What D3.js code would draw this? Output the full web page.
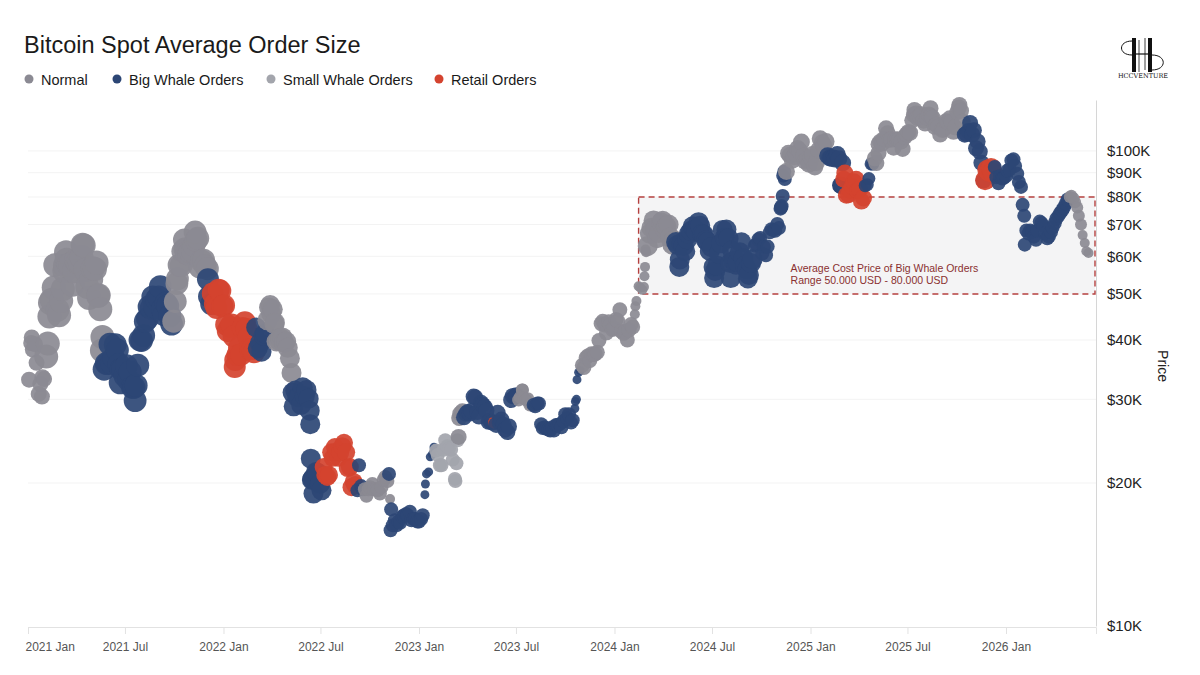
<!DOCTYPE html>
<html>
<head>
<meta charset="utf-8">
<script src="https://cdn.jsdelivr.net/npm/d3@7"></script>
<style>
  body { margin: 0; background: #fff; }
  svg { font-family: "Helvetica Neue", Helvetica, Arial, "Liberation Sans", sans-serif; }
</style>
</head>
<body>
<svg id="chart" width="1200" height="675"></svg>
<script>
// order classes and legend
const classNames = ["normal", "bigWhale", "smallWhale", "retail"];
const classLabels = ["Normal", "Big Whale Orders", "Small Whale Orders", "Retail Orders"];
const classColors = ["#8b8a93", "#2c4675", "#a3a5ac", "#d4432f"];

// BTC close (thousand USD): Sunday of each week from firstWeek on
const firstWeek = "2021-01-03";
const sun2021 = [33.0, 38.2, 35.8, 32.3, 33.1, 39.3, 48.6, 57.5, 45.1, 51.2, 59.0, 57.5, 55.8,
  58.2, 59.8, 56.2, 49.0, 56.6, 58.2, 46.4, 34.7, 35.7, 35.8, 39.1, 35.5, 34.7,
  35.3, 34.3, 31.8, 35.4, 39.9, 43.8, 47.0, 49.3, 48.8, 51.8, 45.2, 47.2, 43.2,
  48.2, 57.5, 61.5, 60.9, 61.3, 63.3, 65.5, 58.7, 57.3, 49.4, 50.1, 46.7, 50.8];
const sun2022 = [47.3, 41.8, 43.1, 36.3, 38.5, 42.4, 42.2, 38.3, 37.7, 38.4, 37.8, 41.3, 46.8,
  46.4, 39.7, 40.4, 39.5, 38.5, 34.1, 31.3, 30.3, 31.8, 31.4, 26.6, 20.6, 21.0,
  19.3, 20.8, 20.8, 22.6, 23.3, 23.2, 24.3, 21.5, 19.6, 19.8, 21.8, 19.4, 18.8,
  19.6, 19.4, 19.3, 19.6, 20.6, 20.9, 16.3, 16.3, 16.5, 17.1, 17.1, 16.7, 16.8];
const sun2023 = [16.6, 17.1, 20.9, 22.7, 23.8, 22.9, 21.8, 24.6, 23.6, 22.4, 22.0, 28.0, 27.5,
  28.2, 28.4, 30.3, 27.6, 29.2, 28.4, 27.0, 26.8, 28.1, 27.2, 25.9, 26.3, 30.5,
  30.6, 30.3, 30.2, 30.1, 29.3, 29.0, 29.4, 26.1, 26.0, 25.8, 25.8, 26.5, 26.2,
  27.9, 27.9, 27.1, 30.0, 34.5, 35.0, 37.0, 37.4, 37.4, 39.9, 43.8, 41.4, 43.0, 42.3];
const sun2024 = [43.9, 41.7, 41.6, 42.0, 42.6, 48.3, 51.6, 51.7, 63.1, 68.9, 68.4, 67.2, 71.3,
  69.4, 65.7, 64.9, 63.4, 63.9, 61.5, 66.9, 69.4, 67.8, 69.6, 66.6, 64.3, 62.7,
  55.9, 60.8, 68.2, 68.3, 58.1, 58.7, 58.4, 64.2, 57.3, 54.8, 59.2, 63.6, 65.6,
  62.8, 62.9, 68.4, 67.9, 68.8, 80.4, 90.5, 97.9, 97.2, 101.2, 104.4, 95.1, 93.7];
const sun2025 = [98.3, 94.5, 106.1, 102.6, 97.7, 96.5, 96.1, 96.3, 94.3, 80.7, 82.6, 86.1, 82.3,
  78.4, 84.5, 87.5, 93.8, 94.3, 104.6, 106.0, 109.0, 105.7, 105.7, 105.5, 101.0, 108.4,
  109.2, 119.1, 117.3, 119.4, 114.2, 119.3, 117.5, 113.5, 108.3, 111.1, 115.3, 115.2, 112.1,
  123.5, 115.2, 108.6, 114.5, 110.6, 104.7, 94.4, 86.8, 90.4, 90.0, 88.0, 88.5, 87.8];
const sun2026 = [91.0, 95.5, 93.0, 86.0, 77.0, 68.0, 68.0, 66.0, 68.0, 70.5, 67.0, 66.0, 69.0,
  72.0, 74.0, 76.0, 79.0, 80.5, 78.0, 73.0, 66.5, 61.5];

// BTC close (thousand USD): Thursday of the same weeks
const thu2021 = [39.4, 39.2, 30.8, 33.4, 36.9, 47.9, 51.6, 46.3, 48.4, 57.3, 57.6, 52.3,
  58.9, 58.1, 63.2, 51.7, 53.6, 56.4, 49.7, 40.6, 35.7, 39.2, 36.7, 38.1, 34.7,
  33.6, 32.9, 31.8, 32.1, 40.0, 40.9, 44.4, 46.7, 46.9, 49.3, 46.4, 47.8, 44.9, 43.8,
  53.8, 57.4, 62.2, 60.6, 61.5, 64.9, 56.9, 58.9, 56.5, 47.6, 47.6, 51.0, 47.1];
const thu2022 = [43.1, 42.6, 40.7, 37.2, 37.3, 43.6, 40.6, 38.3, 42.5, 39.4, 40.9, 44.0, 45.5,
  43.5, 39.9, 40.5, 39.7, 36.6, 29.0, 30.3, 29.2, 30.5, 30.1, 20.4, 21.1, 19.9,
  21.6, 20.6, 23.2, 23.8, 22.6, 23.9, 23.2, 21.6, 20.1, 19.3, 19.7, 19.4, 19.4,
  19.9, 19.4, 19.0, 20.3, 20.2, 17.6, 16.7, 16.6, 17.0, 17.2, 17.4, 16.8, 16.6];
const thu2023 = [16.8, 18.9, 21.1, 23.0, 23.4, 21.8, 23.5, 23.9, 23.5, 20.4, 25.0, 28.3, 28.0,
  28.0, 30.4, 28.2, 29.5, 28.9, 26.9, 26.8, 26.5, 26.8, 26.5, 25.6, 29.9, 30.4,
  29.9, 31.4, 29.9, 29.2, 29.2, 29.4, 26.6, 26.2, 25.9, 26.2, 26.5, 26.6, 27.0,
  27.4, 26.8, 28.7, 34.2, 35.4, 36.7, 36.2, 37.3, 37.7, 43.3, 43.0, 43.7, 42.1, 44.2];
const thu2024 = [46.3, 41.3, 40.0, 43.1, 45.3, 51.9, 51.0, 61.2, 67.0, 71.4, 65.5, 70.7,
  68.5, 70.0, 63.5, 64.3, 59.1, 63.1, 65.2, 67.9, 68.4, 70.8, 66.8, 64.8, 61.6,
  57.0, 57.3, 63.9, 65.8, 65.4, 61.7, 57.6, 61.2, 59.4, 56.2, 58.1, 63.2, 65.2,
  60.8, 60.3, 67.4, 68.2, 70.2, 76.0, 87.3, 98.9, 95.6, 98.8, 100.0, 97.5, 95.8, 96.9];
const thu2025 = [92.5, 100.5, 104.0, 104.7, 96.6, 96.6, 98.3, 84.7, 89.9, 80.9, 84.2, 87.2,
  83.1, 79.6, 84.9, 93.9, 96.5, 103.3, 103.7, 111.6, 105.6, 101.6, 105.8, 104.6, 107.1,
  109.6, 116.0, 119.9, 118.4, 115.8, 117.5, 118.3, 112.4, 112.5, 110.7, 115.5, 117.1, 109.7,
  120.7, 121.5, 108.2, 110.1, 108.3, 101.3, 99.7, 86.6, 91.3, 92.1, 92.5, 85.5, 87.5, 88.5];
const thu2026 = [91.5, 96.0, 89.5, 84.0, 63.5, 67.0, 67.5, 65.0, 71.0, 69.5, 65.5, 67.5,
  70.5, 73.0, 75.0, 77.5, 80.0, 79.5, 76.0, 70.0, 64.0, 61.0];

// intraweek highs / lows (thousand USD)
const extraDates = ["2021-01-08", "2021-01-27", "2021-02-10", "2021-03-10", "2021-03-13",
  "2021-04-13", "2021-05-12", "2021-05-19", "2021-06-22", "2021-07-20", "2021-10-06", "2021-10-20",
  "2021-11-09", "2021-12-03", "2022-01-22", "2022-03-29", "2022-04-06", "2022-05-10", "2022-06-11",
  "2022-06-13", "2022-06-15", "2022-06-18", "2022-11-08", "2022-11-09", "2023-01-13", "2023-03-10",
  "2023-03-14", "2023-03-17", "2023-07-13", "2023-10-20", "2023-10-23", "2024-02-09", "2024-02-26",
  "2024-02-27", "2024-02-28", "2024-05-01", "2024-07-05", "2024-08-05", "2024-09-06", "2024-11-06",
  "2024-11-08", "2024-11-11", "2024-11-13", "2025-02-26", "2025-02-28", "2025-03-04", "2025-05-08",
  "2025-07-14", "2025-08-13", "2025-10-06", "2026-02-04"];
const extraPrices = [40.5, 30.4, 44.8, 55.9, 61.2,
  63.5, 49.5, 38.0, 32.5, 29.8, 52.6, 65.0,
  67.5, 53.7, 35.1, 47.4, 43.2, 31.0, 28.4,
  22.5, 20.3, 19.0, 18.5, 15.9, 19.9, 20.2,
  24.6, 27.4, 31.4, 29.7, 33.0, 47.1, 54.5,
  57.0, 62.0, 57.0, 54.0, 54.0, 53.9, 75.6,
  76.5, 88.7, 90.4, 84.7, 84.4, 87.2, 99.0,
  122.0, 123.0, 125.0, 73.0];

// dominant order class from each start date, with the average order size (relative units)
const segStart = ["2021-01-01", "2021-02-01", "2021-05-23", "2021-09-29", "2021-12-03", "2021-12-10",
  "2022-03-01", "2022-03-23", "2022-05-09", "2022-07-06", "2022-09-07", "2022-09-21", "2022-11-04",
  "2022-11-08", "2022-11-09", "2023-01-11", "2023-02-01", "2023-03-16", "2023-03-25", "2023-05-19",
  "2023-05-24", "2023-07-04", "2023-08-02", "2023-10-16", "2023-11-01", "2024-02-06", "2024-03-01",
  "2024-04-22", "2024-09-16", "2024-11-15", "2025-02-01", "2025-03-03", "2025-04-13", "2025-05-01",
  "2025-10-16", "2025-11-21", "2025-12-11", "2026-04-29", "2026-05-22"];
const segClass = ["normal", "normal", "bigWhale", "normal", "bigWhale", "retail",
  "bigWhale", "normal", "bigWhale", "retail", "bigWhale", "normal", "bigWhale",
  "normal", "bigWhale", "bigWhale", "smallWhale", "normal", "bigWhale", "retail",
  "bigWhale", "normal", "bigWhale", "bigWhale", "normal", "normal", "normal",
  "bigWhale", "bigWhale", "normal", "bigWhale", "retail", "bigWhale", "normal",
  "bigWhale", "retail", "bigWhale", "normal", "normal"];
const segOrderSize = [64, 144, 130, 130, 121, 121,
  100, 100, 100, 81, 49, 49, 49,
  25, 49, 20, 49, 64, 64, 36,
  64, 42, 49, 20, 56, 25, 100,
  100, 49, 72, 72, 72, 42, 64,
  64, 100, 49, 36, 25];

const yTicks = [10000, 20000, 30000, 40000, 50000, 60000, 70000, 80000, 90000, 100000];
const yTickLabels = ["$10K", "$20K", "$30K", "$40K", "$50K", "$60K", "$70K", "$80K", "$90K", "$100K"];
const bandRange = [50000, 80000];
const bandStart = "2024-02-15";
const bandText = ["Average Cost Price of Big Whale Orders", "Range 50.000 USD - 80.000 USD"];

// ---------- build rows ----------
const parse = d3.utcParse("%Y-%m-%d");
const sundays = [].concat(sun2021, sun2022, sun2023, sun2024, sun2025, sun2026);
const thursdays = [].concat(thu2021, thu2022, thu2023, thu2024, thu2025, thu2026);
let rows = [];
sundays.forEach((p, i) => rows.push({ date: d3.utcDay.offset(parse(firstWeek), 7 * i), price: p * 1000 }));
thursdays.forEach((p, i) => rows.push({ date: d3.utcDay.offset(parse(firstWeek), 7 * i + 4), price: p * 1000 }));
extraDates.forEach((d, i) => rows.push({ date: parse(d), price: extraPrices[i] * 1000 }));
rows.sort((a, b) => a.date - b.date);

const segDates = segStart.map(parse);
for (let r of rows) {
    const k = d3.bisectRight(segDates, r.date) - 1;
    r.cls = segClass[k];
    r.size = segOrderSize[k];
}

// ---------- scales ----------
const svg = d3.select("#chart");
const x = d3.scaleUtc().domain([parse("2021-01-01"), parse("2026-06-18")]).range([28, 1096]);
const y = d3.scaleLog().domain([10000, 128000]).range([626, 100]);
const r = d3.scaleSqrt().domain([0, 144]).range([0, 12]);
const color = d3.scaleOrdinal().domain(classNames).range(classColors);

// gridlines
svg.append("g").selectAll("line").data(yTicks.slice(1)).join("line")
    .attr("x1", 28).attr("x2", 1096)
    .attr("y1", d => y(d)).attr("y2", d => y(d))
    .attr("stroke", "#f3f3f3").attr("stroke-width", 1);

// annotation band
const band = svg.append("g");
band.append("rect")
    .attr("x", x(parse(bandStart))).attr("y", y(bandRange[1]))
    .attr("width", 1095 - x(parse(bandStart)))
    .attr("height", y(bandRange[0]) - y(bandRange[1]))
    .attr("fill", "#f4f4f5")
    .attr("stroke", "#b5403f").attr("stroke-width", 1.4)
    .attr("stroke-dasharray", "6,4");
band.selectAll("text").data(bandText).join("text")
    .attr("x", x(parse(bandStart)) + 152)
    .attr("y", (d, i) => y(bandRange[0]) - 22 + i * 12)
    .attr("font-size", 10.5).attr("fill", "#8a3030")
    .text(d => d);

// bottom axis
const xTicks = d3.utcMonth.every(6).range(parse("2021-01-01"), parse("2026-02-01"));
const fmt = d3.utcFormat("%Y %b");
const gx = svg.append("g").attr("transform", "translate(0,627)")
    .call(d3.axisBottom(x).tickValues(xTicks).tickSize(7).tickPadding(8).tickFormat(fmt));
gx.select(".domain").attr("stroke", "#e2e2e2");
gx.selectAll(".tick line").attr("stroke", "#e2e2e2");
gx.selectAll(".tick text").attr("fill", "#555").attr("font-size", 12)
    .attr("font-family", "\"Helvetica Neue\", Helvetica, Arial, sans-serif");
gx.select(".tick text").attr("text-anchor", "start").attr("x", -3);

// right axis
const gy = svg.append("g").attr("transform", "translate(1096,0)")
    .call(d3.axisRight(y).tickValues(yTicks).tickSize(0).tickPadding(11)
        .tickFormat((d, i) => yTickLabels[i]));
gy.select(".domain").attr("stroke", "#d6d6d6");
gy.selectAll(".tick text").attr("fill", "#222").attr("font-size", 15)
    .attr("font-family", "\"Helvetica Neue\", Helvetica, Arial, sans-serif");

svg.append("text")
    .attr("transform", "translate(1158,366) rotate(90)")
    .attr("text-anchor", "middle").attr("font-size", 14).attr("fill", "#222")
    .text("Price");

// bubbles
svg.append("g").selectAll("circle").data(rows).join("circle")
    .attr("cx", d => x(d.date))
    .attr("cy", d => y(d.price))
    .attr("r", d => r(d.size))
    .attr("fill", d => color(d.cls))
    .attr("fill-opacity", 0.92);

// title + legend
svg.append("text").attr("x", 24).attr("y", 53)
    .attr("font-size", 23.5).attr("fill", "#1a1a1a")
    .text("Bitcoin Spot Average Order Size");

const legendX = [29, 117, 271, 439];
const legend = svg.append("g").selectAll("g").data(classLabels).join("g")
    .attr("transform", (d, i) => `translate(${legendX[i]},79)`);
legend.append("circle").attr("r", 4.5).attr("fill", (d, i) => classColors[i]);
legend.append("text").attr("x", 12).attr("y", 5.5)
    .attr("font-size", 14.5).attr("fill", "#1a1a1a").text(d => d);

// logo
const logo = svg.append("g").attr("fill", "none").attr("stroke", "#111");
logo.append("rect").attr("x", 1132).attr("y", 38).attr("width", 4).attr("height", 34).attr("fill", "#111").attr("stroke", "none");
logo.append("rect").attr("x", 1148).attr("y", 38).attr("width", 4).attr("height", 34).attr("fill", "#111").attr("stroke", "none");
logo.append("line").attr("x1", 1139).attr("x2", 1139).attr("y1", 40).attr("y2", 72).attr("stroke-width", 0.8);
logo.append("line").attr("x1", 1145).attr("x2", 1145).attr("y1", 38).attr("y2", 70).attr("stroke-width", 0.8);
logo.append("line").attr("x1", 1132).attr("x2", 1152).attr("y1", 54).attr("y2", 54).attr("stroke-width", 1.2);
logo.append("path").attr("d", "M1132,41 C1118,41 1118,55 1132,55").attr("stroke-width", 1);
logo.append("path").attr("d", "M1152,55 C1167,55 1167,70 1152,70").attr("stroke-width", 1);
svg.append("text").attr("x", 1143).attr("y", 78).attr("text-anchor", "middle")
    .attr("font-size", 6.5).attr("font-family", "\"DejaVu Serif\", serif").attr("fill", "#111")
    .text("HCCVENTURE");
</script>
</body>
</html>
